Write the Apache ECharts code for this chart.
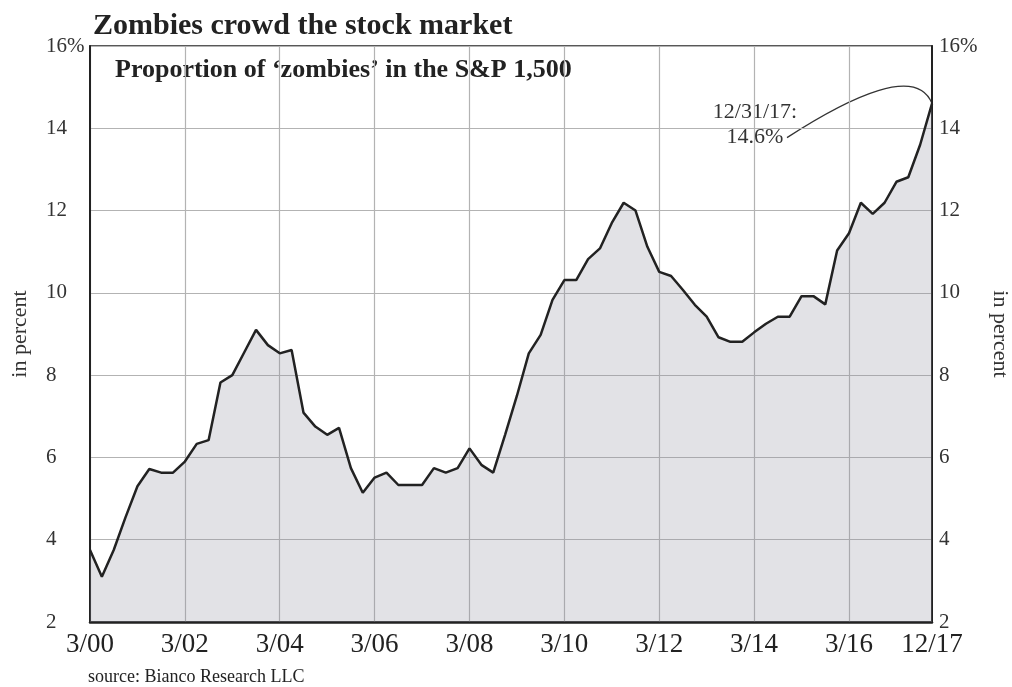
<!DOCTYPE html>
<html>
<head>
<meta charset="utf-8">
<script src="https://cdn.jsdelivr.net/npm/echarts@6/dist/echarts.min.js"></script>
<style>
    html, body { margin: 0; padding: 0; background: #fff; }
    #main { width: 1012px; height: 687px; }
</style>
</head>
<body>
<div id="main"></div>
<script>
// quarter labels, 3/00 .. 12/17
const quarters = [
    '3/00', '6/00', '9/00', '12/00', '3/01', '6/01', '9/01', '12/01',
    '3/02', '6/02', '9/02', '12/02', '3/03', '6/03', '9/03', '12/03',
    '3/04', '6/04', '9/04', '12/04', '3/05', '6/05', '9/05', '12/05',
    '3/06', '6/06', '9/06', '12/06', '3/07', '6/07', '9/07', '12/07',
    '3/08', '6/08', '9/08', '12/08', '3/09', '6/09', '9/09', '12/09',
    '3/10', '6/10', '9/10', '12/10', '3/11', '6/11', '9/11', '12/11',
    '3/12', '6/12', '9/12', '12/12', '3/13', '6/13', '9/13', '12/13',
    '3/14', '6/14', '9/14', '12/14', '3/15', '6/15', '9/15', '12/15',
    '3/16', '6/16', '9/16', '12/16', '3/17', '6/17', '9/17', '12/17'
]

// share of zombie firms in the S&P 1,500, percent
const zombieShare = [
    3.75, 3.1, 3.75, 4.55, 5.3, 5.72, 5.63, 5.63,
    5.9, 6.33, 6.42, 7.82, 8.0, 8.55, 9.1, 8.73,
    8.53, 8.61, 7.09, 6.75, 6.55, 6.72, 5.74, 5.14,
    5.51, 5.63, 5.33, 5.33, 5.33, 5.74, 5.63, 5.74,
    6.22, 5.82, 5.63, 6.55, 7.5, 8.53, 8.98, 9.83,
    10.31, 10.31, 10.82, 11.08, 11.7, 12.19, 12.0, 11.12,
    10.51, 10.41, 10.07, 9.71, 9.42, 8.92, 8.81, 8.81,
    9.04, 9.25, 9.42, 9.42, 9.92, 9.92, 9.72, 11.03,
    11.45, 12.19, 11.92, 12.19, 12.7, 12.81, 13.6, 14.6
]

const yMin = 2
const yMax = 16
const yStep = 2

const serif = '"Liberation Serif", "DejaVu Serif", serif'
const ink = '#222'

function showTick(i) {
    return i % 8 === 0 || i === quarters.length - 1
}

function yLabel(v) {
    return v === yMax ? v + '%' : String(v)
}

let chart = echarts.init(document.getElementById('main'))

let yAxisBase = {
    type: 'value',
    min: yMin,
    max: yMax,
    interval: yStep,
    name: 'in percent',
    nameLocation: 'middle',
    nameTextStyle: { fontFamily: serif, fontSize: 22, color: '#333' },
    axisLine: { show: true, lineStyle: { color: ink, width: 2 } },
    axisTick: { show: false },
    splitLine: { lineStyle: { color: '#b3b3b3', width: 1.2 } }
}

let option = {
    backgroundColor: '#fff',
    animation: false,
    title: {
        text: 'Zombies crowd the stock market',
        left: 88,
        top: 6,
        textStyle: { fontFamily: serif, fontSize: 30, fontWeight: 'bold', color: ink }
    },
    grid: {
        left: 90,
        right: 80,
        top: 46,
        bottom: 65,
        containLabel: false,
        outerBoundsMode: 'none',
        show: true,
        borderColor: ink,
        borderWidth: 1.5,
        backgroundColor: 'transparent'
    },
    xAxis: {
        type: 'category',
        data: quarters,
        boundaryGap: false,
        axisLine: { lineStyle: { color: ink, width: 2.5 } },
        axisTick: { show: false },
        axisLabel: {
            interval: (i) => showTick(i),
            fontFamily: serif,
            fontSize: 27,
            color: ink,
            margin: 9
        },
        splitLine: {
            show: true,
            interval: (i) => i % 8 === 0,
            lineStyle: { color: '#b3b3b3', width: 1.2 }
        }
    },
    yAxis: [
        Object.assign({}, yAxisBase, {
            position: 'left',
            nameGap: 59,
            nameRotate: 90,
            axisLabel: {
                formatter: yLabel,
                align: 'left',
                margin: 44,
                fontFamily: serif,
                fontSize: 21,
                color: '#333'
            }
        }),
        Object.assign({}, yAxisBase, {
            position: 'right',
            nameGap: 38,
            nameRotate: -90,
            axisLabel: {
                formatter: yLabel,
                margin: 7,
                fontFamily: serif,
                fontSize: 21,
                color: '#333'
            }
        })
    ],
    series: [{
        type: 'line',
        data: zombieShare,
        showSymbol: false,
        symbol: 'none',
        lineStyle: { color: ink, width: 2.5 },
        areaStyle: { color: 'rgba(145,145,160,0.38)', origin: 'start' }
    }],
    graphic: [{
        id: 'subtitle',
        type: 'text',
        left: 115,
        top: 57,
        style: {
            text: 'Proportion of \u2018zombies\u2019 in the S&P 1,500',
            font: 'bold 26px ' + serif,
            fill: ink
        }
    }, {
        id: 'source',
        type: 'text',
        left: 88,
        top: 668,
        style: {
            text: 'source: Bianco Research LLC',
            font: '18px ' + serif,
            fill: ink
        }
    }]
}

chart.setOption(option)

// callout for the last value, anchored on the last point
let lastIdx = zombieShare.length - 1
let end = chart.convertToPixel({ gridIndex: 0 }, [lastIdx, zombieShare[lastIdx]])
let tx = end[0] - 177
let start = [end[0] - 145, end[1] + 34]

chart.setOption({
    graphic: [{
        id: 'calloutDate',
        type: 'text',
        x: tx,
        y: end[1] + 9,
        style: {
            text: '12/31/17:',
            font: '22px ' + serif,
            fill: '#333',
            align: 'center',
            verticalAlign: 'middle'
        }
    }, {
        id: 'calloutValue',
        type: 'text',
        x: tx,
        y: end[1] + 34,
        style: {
            text: '14.6%',
            font: '22px ' + serif,
            fill: '#333',
            align: 'center',
            verticalAlign: 'middle'
        }
    }, {
        id: 'calloutCurve',
        type: 'bezierCurve',
        shape: {
            x1: start[0], y1: start[1],
            cpx1: end[0] - 80, cpy1: end[1] - 8,
            cpx2: end[0] - 15, cpy2: end[1] - 38,
            x2: end[0], y2: end[1]
        },
        style: { stroke: '#333', lineWidth: 1.3, fill: null }
    }]
})
</script>
</body>
</html>
